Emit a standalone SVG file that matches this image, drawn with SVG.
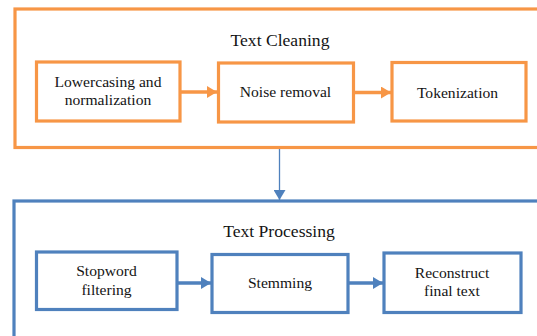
<svg xmlns="http://www.w3.org/2000/svg" width="537" height="336" viewBox="0 0 537 336">
  <defs>
    <marker id="headOrange" markerUnits="userSpaceOnUse" markerWidth="12" markerHeight="12" refX="10" refY="6" orient="auto">
      <path d="M0,0 L10,6 L0,12 Z" fill="#F79646"/>
    </marker>
    <marker id="headBlue" markerUnits="userSpaceOnUse" markerWidth="12" markerHeight="12" refX="10" refY="6" orient="auto">
      <path d="M0,0 L10,6 L0,12 Z" fill="#4F81BD"/>
    </marker>
  </defs>
  <style>
    .orange { fill: #FFFFFF; stroke: #F79646; stroke-width: 3.2; }
    .blue { fill: #FFFFFF; stroke: #4F81BD; stroke-width: 3.2; }
    text { font-family: "Liberation Serif", serif; fill: #141414; text-anchor: middle; }
    .title { font-size: 17.6px; }
    .label { font-size: 15.6px; }
    .flowO { stroke: #F79646; stroke-width: 3.5; fill: none; }
    .flowB { stroke: #4F81BD; stroke-width: 3.5; fill: none; }
    .link { stroke: #4F81BD; stroke-width: 1.3; fill: none; }
  </style>

  <rect width="537" height="336" fill="#FFFFFF"/>

  <!-- Stage 1: text cleaning -->
  <g id="text-cleaning">
    <rect class="orange" x="15" y="9" width="530" height="138.5"/>
    <text class="title" x="280" y="46">Text Cleaning</text>
  </g>
  <g id="lowercasing">
    <rect class="orange" x="36.5" y="62" width="143.5" height="59"/>
    <text class="label" x="108" y="87">Lowercasing and</text>
    <text class="label" x="108" y="105">normalization</text>
  </g>
  <g id="noise-removal">
    <rect class="orange" x="218.5" y="63" width="135" height="59"/>
    <text class="label" x="285.5" y="97">Noise removal</text>
  </g>
  <g id="tokenization">
    <rect class="orange" x="392" y="62.5" width="134" height="58.5"/>
    <text class="label" x="457.5" y="98">Tokenization</text>
  </g>

  <!-- Stage 2: text processing -->
  <g id="text-processing">
    <rect class="blue" x="14" y="201" width="531" height="150"/>
    <text class="title" x="279" y="237">Text Processing</text>
  </g>
  <g id="stopword-filtering">
    <rect class="blue" x="36.5" y="252" width="140.5" height="57.5"/>
    <text class="label" x="106.5" y="276">Stopword</text>
    <text class="label" x="106.5" y="295">filtering</text>
  </g>
  <g id="stemming">
    <rect class="blue" x="212" y="254.5" width="136" height="58"/>
    <text class="label" x="280" y="288">Stemming</text>
  </g>
  <g id="reconstruct">
    <rect class="blue" x="384" y="253" width="137" height="59.5"/>
    <text class="label" x="452" y="278">Reconstruct</text>
    <text class="label" x="452" y="296">final text</text>
  </g>

  <!-- Connectors -->
  <g id="connectors">
    <line class="flowO" x1="180" y1="92" x2="217" y2="92" marker-end="url(#headOrange)"/>
    <line class="flowO" x1="353.5" y1="92.5" x2="391" y2="92.5" marker-end="url(#headOrange)"/>
    <line class="link" x1="279.5" y1="149" x2="279.5" y2="200" marker-end="url(#headBlue)"/>
    <line class="flowB" x1="177" y1="283" x2="211" y2="283" marker-end="url(#headBlue)"/>
    <line class="flowB" x1="348" y1="283" x2="383" y2="283" marker-end="url(#headBlue)"/>
  </g>
</svg>
